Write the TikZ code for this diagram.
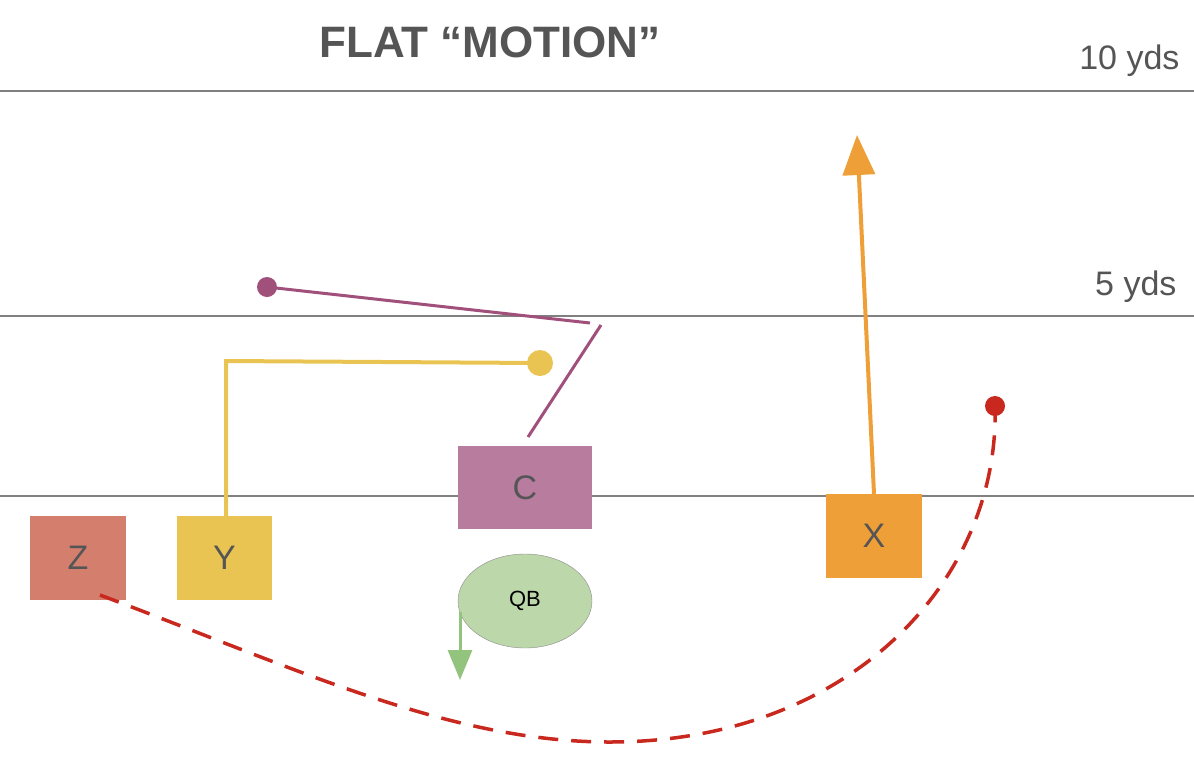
\documentclass[tikz,border=0pt]{standalone}
\usepackage{fontspec}
\setmainfont{Liberation Sans}
\usetikzlibrary{arrows.meta,shapes.geometric}
\definecolor{txt}{HTML}{555555}
\definecolor{zc}{HTML}{D47F6E}
\definecolor{yc}{HTML}{EAC452}
\definecolor{cc}{HTML}{B87C9F}
\definecolor{xc}{HTML}{EE9F38}
\definecolor{qc}{HTML}{BCD7AA}
\definecolor{pl}{HTML}{A0507A}
\definecolor{rd}{HTML}{C8281E}
\definecolor{gr}{HTML}{93C47D}
\begin{document}
\begin{tikzpicture}[x=1pt,y=-1pt,
 player/.style={draw=none,inner sep=0,font=\fontsize{34}{34}\selectfont,text=txt},
 yard/.style={draw=black!50,line width=1.2pt}]
\useasboundingbox (0,0) rectangle (1194,772);
\node[text=txt,font=\bfseries\fontsize{44}{44}\selectfont] (title) at (490,42) {FLAT “MOTION”};
\draw[yard] (0,91) -- (1194,91);
\draw[yard] (0,316) -- (1194,316);
\draw[yard] (0,496) -- (1194,496);
\node[text=txt,font=\fontsize{34}{34}\selectfont,anchor=east] (ten) at (1183,61) {10 yds};
\node[text=txt,font=\fontsize{34}{34}\selectfont,anchor=east] (five) at (1180,287) {5 yds};
\node[player,fill=zc,minimum width=96,minimum height=84] (Z) at (78,558) {Z};
\node[player,fill=yc,minimum width=95,minimum height=84] (Y) at (224.5,558) {Y};
\node[player,fill=cc,minimum width=134,minimum height=83] (C) at (525,487.5) {C};
\node[player,fill=xc,minimum width=96,minimum height=84] (X) at (874,536) {X};
\node[draw=black!45,fill=qc,ellipse,minimum width=134,minimum height=94,inner sep=0,font=\fontsize{22}{22}\selectfont] (QB) at (525,601) {QB};
% Y route
\coordinate (y1) at (226,361);
\coordinate (y2) at (540,363);
\draw[yc,line width=4pt] (226,516) -- (y1) -- (y2);
\fill[yc] (y2) circle (13);
% C route
\coordinate (c1) at (601,325);
\coordinate (c2) at (590,323);
\coordinate (c3) at (267,287);
\draw[pl,line width=3pt] (528,437) -- (c1);
\draw[pl,line width=3pt] (c2) -- (c3);
\fill[pl] (c3) circle (10);
% X route
\coordinate (xe) at (857,135);
\draw[xc,line width=4pt,-{Triangle[length=40,width=32]}] (X.north) -- (xe);
% QB
\coordinate (q1) at (460,612);
\coordinate (q2) at (460,680);
\draw[gr,line width=3pt,-{Triangle[length=30,width=24]}] (q1) -- (q2);
% Z motion
\coordinate (z0) at (100,595);
\coordinate (zm) at (610,742);
\coordinate (ze) at (995,406);
\draw[rd,line width=3.5pt,dash pattern=on 20 off 13] (z0) .. controls (300,670) and (450,742) .. (zm) .. controls (850,742) and (1000,580) .. (ze);
\fill[rd] (ze) circle (10);
\end{tikzpicture}
\end{document}
